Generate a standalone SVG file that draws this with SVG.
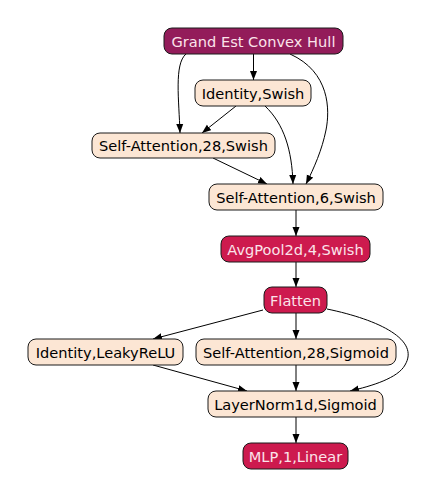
<svg xmlns="http://www.w3.org/2000/svg" width="436" height="498" viewBox="0 0 436 498">
<defs>
<marker id="ah" markerWidth="10" markerHeight="8" refX="9" refY="4" orient="auto" markerUnits="userSpaceOnUse">
<path d="M0,0.5 L9,4 L0,7.5 Z" fill="#000"/>
</marker>
<style>
.n rect{stroke:#1a1a1a;stroke-width:1}
.b rect{fill:#fce6d4}
.r rect{fill:#cd1a4e}
.p rect{fill:#931c5a}
text{font-family:"DejaVu Sans",sans-serif;font-size:14.6px;text-anchor:middle;dominant-baseline:central}
.b text{fill:#000}
.r text,.p text{fill:#fbe3ea}
#edges path{fill:none;stroke:#000;stroke-width:1;marker-end:url(#ah)}
</style>
</defs>
<rect width="436" height="498" fill="#fff"/>
<g id="edges">
<path d="M253.5,54 L253.5,80"/>
<path d="M186,54 C174,64 179,100 180,133"/>
<path d="M290,54 C330,72 330,110 326,130 C322,150 314,168 306,184"/>
<path d="M236,106 L202,133"/>
<path d="M265,106 C284,124 292,150 293,184"/>
<path d="M213,158 L267,184"/>
<path d="M296,210 L296,236"/>
<path d="M296,262 L296,287"/>
<path d="M263,310 L153,339"/>
<path d="M296,313 L296,339"/>
<path d="M327,309 C380,320 420,340 405,365 C398,378 372,386 350,391"/>
<path d="M153,365 L247,391"/>
<path d="M296,365 L296,391"/>
<path d="M296,417 L296,443"/>
</g>
<g id="n1" class="n p"><rect x="164" y="28" width="179" height="26" rx="8"/><text x="253.5" y="41">Grand Est Convex Hull</text></g>
<g id="n2" class="n b"><rect x="195" y="80" width="116" height="26" rx="8"/><text x="253" y="93">Identity,Swish</text></g>
<g id="n3" class="n b"><rect x="92" y="133" width="183" height="25" rx="8"/><text x="183.5" y="145.5">Self-Attention,28,Swish</text></g>
<g id="n4" class="n b"><rect x="209" y="184" width="174" height="26" rx="8"/><text x="296" y="197">Self-Attention,6,Swish</text></g>
<g id="n5" class="n r"><rect x="221" y="236" width="149" height="26" rx="8"/><text x="295.5" y="249">AvgPool2d,4,Swish</text></g>
<g id="n6" class="n r"><rect x="264" y="287" width="63" height="26" rx="8"/><text x="295.5" y="300">Flatten</text></g>
<g id="n7" class="n b"><rect x="28" y="339" width="155" height="26" rx="8"/><text x="105.5" y="352">Identity,LeakyReLU</text></g>
<g id="n8" class="n b"><rect x="196" y="339" width="200" height="26" rx="8"/><text x="296" y="352">Self-Attention,28,Sigmoid</text></g>
<g id="n9" class="n b"><rect x="208" y="391" width="175" height="26" rx="8"/><text x="295.5" y="404">LayerNorm1d,Sigmoid</text></g>
<g id="n10" class="n r"><rect x="243" y="443" width="105" height="26" rx="8"/><text x="295.5" y="456">MLP,1,Linear</text></g>
</svg>
